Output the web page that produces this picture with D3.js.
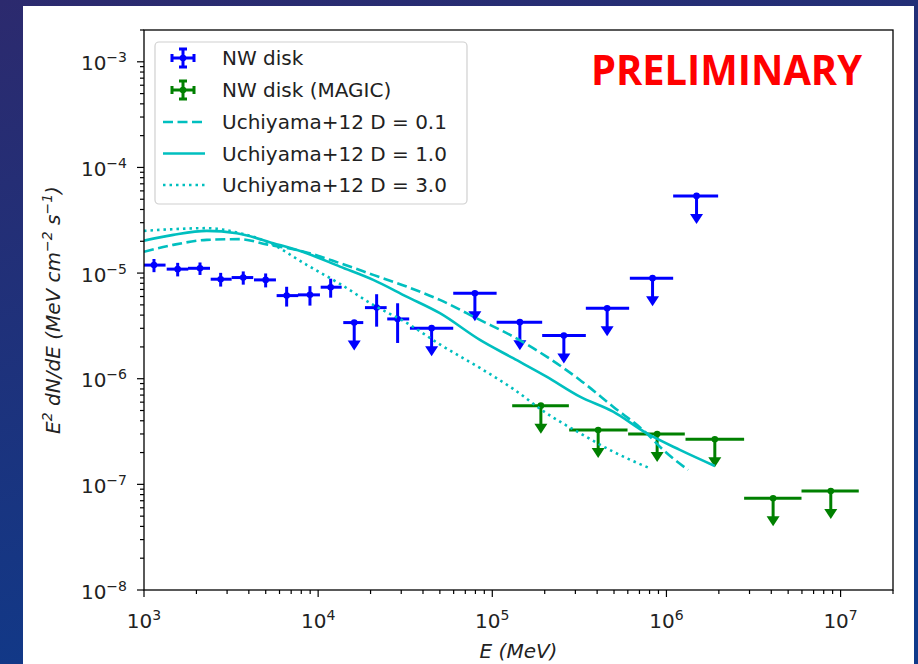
<!DOCTYPE html>
<html>
<head>
<meta charset="utf-8">
<script src="https://cdn.jsdelivr.net/npm/d3@7"></script>
<style>
  body { margin: 0; background: #1b2f78; }
  svg { display: block; }
</style>
</head>
<body>
<script>
// axis ticks
var xTicks = [1e3, 1e4, 1e5, 1e6, 1e7];
var xTickExp = ["3", "4", "5", "6", "7"];
var yTicks = [1e-8, 1e-7, 1e-6, 1e-5, 1e-4, 1e-3];
var yTickExp = ["\u22128", "\u22127", "\u22126", "\u22125", "\u22124", "\u22123"];

// NW disk (Fermi-LAT), energy in MeV, E^2 dN/dE in MeV cm^-2 s^-1
var blueE   = [1141, 1561, 2097, 2756, 3715, 4995, 6594, 8974, 11800, 16110, 21670, 28600, 44830, 79450, 144000, 257600, 456600, 832300, 1489000];
var blueElo = [1000, 1350, 1789, 2415, 3187, 4280, 5776, 7656, 10340, 13940, 18570, 24930, 33650, 59660, 105900, 193400, 344500, 616500, 1093000];
var blueEhi = [1330, 1796, 2393, 3187, 4240, 5724, 7688, 10240, 13650, 18160, 24740, 33340, 59660, 105900, 193400, 344500, 610800, 1093000, 1981000];
var blueF   = [1.19e-5, 1.09e-5, 1.11e-5, 8.75e-6, 9.07e-6, 8.62e-6, 6.12e-6, 6.22e-6, 7.35e-6, 3.40e-6, 4.71e-6, 3.68e-6, 3.01e-6, 6.45e-6, 3.43e-6, 2.56e-6, 4.65e-6, 8.95e-6, 5.38e-5];
var blueErr = [1.7e-6, 1.6e-6, 1.5e-6, 1.3e-6, 1.3e-6, 1.3e-6, 1.3e-6, 1.3e-6, 1.5e-6, 0, 1.6e-6, 1.5e-6, 0, 0, 0, 0, 0, 0, 0];
var blueUL  = [0, 0, 0, 0, 0, 0, 0, 0, 0, 1, 0, 0, 1, 1, 1, 1, 1, 1, 1];

// NW disk (MAGIC), all upper limits
var greenE   = [190100, 405500, 884500, 1896000, 4098000, 8785000];
var greenElo = [130100, 276400, 602700, 1287000, 2793000, 5965000];
var greenEhi = [275300, 597900, 1275000, 2793000, 5965000, 12720000];
var greenF   = [5.56e-7, 3.27e-7, 3.00e-7, 2.67e-7, 7.39e-8, 8.66e-8];

// Uchiyama+12 model curves
var d01E = [1000, 1473, 2291, 3557, 5063, 8590, 13340, 20720, 32210, 50020, 84920, 131800, 204900, 318400, 494300, 768900, 957400, 1332000];
var d01F = [1.588e-5, 1.849e-5, 2.062e-5, 2.094e-5, 1.870e-5, 1.570e-5, 1.241e-5, 9.62e-6, 7.45e-6, 5.57e-6, 3.60e-6, 2.505e-6, 1.619e-6, 9.74e-7, 5.44e-7, 3.05e-7, 2.12e-7, 1.369e-7];
var d10E = [1000, 1473, 2291, 3406, 5524, 8590, 13340, 20720, 32210, 50020, 84920, 131800, 204900, 318400, 494300, 768900, 1194000, 1896000];
var d10F = [2.026e-5, 2.300e-5, 2.510e-5, 2.387e-5, 1.919e-5, 1.543e-5, 1.152e-5, 8.62e-6, 5.99e-6, 4.17e-6, 2.33e-6, 1.563e-6, 1.047e-6, 6.77e-7, 4.88e-7, 3.05e-7, 2.12e-7, 1.494e-7];
var d30E = [1000, 1473, 2291, 3557, 5063, 8590, 13340, 20720, 32210, 50020, 84920, 131800, 204900, 318400, 494300, 803000];
var d30F = [2.510e-5, 2.604e-5, 2.662e-5, 2.387e-5, 1.987e-5, 1.196e-5, 7.90e-6, 5.00e-6, 3.38e-6, 2.113e-6, 1.265e-6, 8.01e-7, 4.71e-7, 3.05e-7, 2.04e-7, 1.42e-7];

var legendLabels = ["NW disk", "NW disk (MAGIC)", "Uchiyama+12 D = 0.1", "Uchiyama+12 D = 1.0", "Uchiyama+12 D = 3.0"];

var w = 918;
var h = 664;
var plotL = 144, plotR = 893, plotT = 30, plotB = 590;
var cyan = "#00bfbf";
var textColor = "#222";
var font = "'DejaVu Sans', sans-serif";

var x = d3.scaleLog().domain([1e3, 2e7]).range([plotL, plotR]);
var y = d3.scaleLog().domain([1e-8, 2e-3]).range([plotB, plotT]);

var svg = d3.select("body").append("svg")
            .attr("width", w)
            .attr("height", h);

// slide background
var defs = svg.append("defs");
var grad = defs.append("linearGradient")
               .attr("id", "bg")
               .attr("x1", 0).attr("y1", 0).attr("x2", 0.35).attr("y2", 1);
grad.append("stop").attr("offset", "0%").attr("stop-color", "#2c2a6e");
grad.append("stop").attr("offset", "100%").attr("stop-color", "#0f3a8a");
svg.append("rect").attr("width", w).attr("height", h).attr("fill", "url(#bg)");
svg.append("rect").attr("x", 23).attr("y", 6).attr("width", 891).attr("height", h).attr("fill", "#fff");

defs.append("clipPath").attr("id", "plot")
    .append("rect").attr("x", plotL).attr("y", plotT)
    .attr("width", plotR - plotL).attr("height", plotB - plotT);

// minor + major ticks
var xMinor = x.ticks().filter(function(v) { return xTicks.indexOf(v) < 0; });
var yMinor = y.ticks().filter(function(v) { return yTicks.indexOf(v) < 0; });

var axes = svg.append("g").attr("stroke", "#000").attr("stroke-width", 1.2);
axes.selectAll(null).data(xMinor).enter().append("line")
    .attr("x1", function(d) { return x(d); }).attr("x2", function(d) { return x(d); })
    .attr("y1", plotB).attr("y2", plotB + 4);
axes.selectAll(null).data(xTicks).enter().append("line")
    .attr("x1", function(d) { return x(d); }).attr("x2", function(d) { return x(d); })
    .attr("y1", plotB).attr("y2", plotB + 7);
axes.selectAll(null).data(yMinor).enter().append("line")
    .attr("y1", function(d) { return y(d); }).attr("y2", function(d) { return y(d); })
    .attr("x1", plotL).attr("x2", plotL - 4);
axes.selectAll(null).data(yTicks).enter().append("line")
    .attr("y1", function(d) { return y(d); }).attr("y2", function(d) { return y(d); })
    .attr("x1", plotL).attr("x2", plotL - 7);

// text with superscripts: parts = [[text, isSup], ...]
function mathText(t, parts, size) {
  var prevSup = false;
  parts.forEach(function(p) {
    var s = t.append("tspan").text(p[0]);
    if (p[1]) s.attr("font-size", size * 0.7);
    if (p[1] && !prevSup) s.attr("dy", -8);
    else if (!p[1] && prevSup) s.attr("dy", 8);
    prevSup = p[1];
  });
}

xTicks.forEach(function(v, i) {
  var t = svg.append("text").attr("x", x(v)).attr("y", 628)
             .attr("text-anchor", "middle").attr("font-family", font)
             .attr("font-size", 20).attr("fill", textColor);
  mathText(t, [["10", false], [xTickExp[i], true]], 20);
});
yTicks.forEach(function(v, i) {
  var t = svg.append("text").attr("x", 127).attr("y", y(v) + 8.5)
             .attr("text-anchor", "end").attr("font-family", font)
             .attr("font-size", 20).attr("fill", textColor);
  mathText(t, [["10", false], [yTickExp[i], true]], 20);
});

// axis labels
var xl = svg.append("text").attr("x", (plotL + plotR) / 2).attr("y", 658)
            .attr("text-anchor", "middle").attr("font-family", font)
            .attr("font-style", "italic").attr("font-size", 20).attr("fill", textColor);
mathText(xl, [["E (MeV)", false]], 20);

var yl = svg.append("text").attr("transform", "translate(60," + (plotT + plotB) / 2 + ") rotate(-90)")
            .attr("text-anchor", "middle").attr("font-family", font)
            .attr("font-style", "italic").attr("font-size", 20).attr("fill", textColor);
mathText(yl, [["E", false], ["2", true], [" dN/dE (MeV cm", false], ["\u22122", true], [" s", false], ["\u22121", true], [")", false]], 20);

// data
var plot = svg.append("g").attr("clip-path", "url(#plot)");

function drawPoints(E, Elo, Ehi, F, Ferr, UL, color) {
  var g = plot.append("g");
  var idx = d3.range(E.length);

  g.selectAll(null).data(idx).enter().append("line")
   .attr("x1", function(i) { return x(Elo[i]); })
   .attr("x2", function(i) { return x(Ehi[i]); })
   .attr("y1", function(i) { return y(F[i]); })
   .attr("y2", function(i) { return y(F[i]); })
   .attr("stroke", color).attr("stroke-width", 3);

  // measured points: vertical error bars
  var meas = idx.filter(function(i) { return !UL[i]; });
  g.selectAll(null).data(meas).enter().append("line")
   .attr("x1", function(i) { return x(E[i]); })
   .attr("x2", function(i) { return x(E[i]); })
   .attr("y1", function(i) { return y(F[i] + Ferr[i]); })
   .attr("y2", function(i) { return y(F[i] - Ferr[i]); })
   .attr("stroke", color).attr("stroke-width", 3);

  // upper limits: arrow pointing down
  var lims = idx.filter(function(i) { return UL[i]; });
  g.selectAll(null).data(lims).enter().append("line")
   .attr("x1", function(i) { return x(E[i]); })
   .attr("x2", function(i) { return x(E[i]); })
   .attr("y1", function(i) { return y(F[i]); })
   .attr("y2", function(i) { return y(F[i]) + 20; })
   .attr("stroke", color).attr("stroke-width", 3);
  g.selectAll(null).data(lims).enter().append("path")
   .attr("d", function(i) {
     var cx = x(E[i]), cy = y(F[i]);
     return "M" + (cx - 6.5) + "," + (cy + 18) + "L" + (cx + 6.5) + "," + (cy + 18) + "L" + cx + "," + (cy + 28) + "Z";
   })
   .attr("fill", color);

  g.selectAll(null).data(idx).enter().append("circle")
   .attr("cx", function(i) { return x(E[i]); })
   .attr("cy", function(i) { return y(F[i]); })
   .attr("r", 3.3)
   .attr("fill", color);
}

drawPoints(blueE, blueElo, blueEhi, blueF, blueErr, blueUL, "#0000ff");
drawPoints(greenE, greenElo, greenEhi, greenF, greenF.map(function() { return 0; }), greenF.map(function() { return 1; }), "#008000");

var line = d3.line()
             .curve(d3.curveMonotoneX)
             .x(function(d) { return x(d[0]); })
             .y(function(d) { return y(d[1]); });

function drawCurve(E, F, dash) {
  plot.append("path")
      .datum(d3.zip(E, F))
      .attr("d", line)
      .attr("fill", "none")
      .attr("stroke", cyan)
      .attr("stroke-width", 2.6)
      .attr("stroke-linejoin", "round")
      .attr("stroke-dasharray", dash);
}
drawCurve(d01E, d01F, "10,4.5");
drawCurve(d10E, d10F, null);
drawCurve(d30E, d30F, "2.5,4");

// frame
svg.append("rect").attr("x", plotL).attr("y", plotT)
   .attr("width", plotR - plotL).attr("height", plotB - plotT)
   .attr("fill", "none").attr("stroke", "#000").attr("stroke-width", 1.3);

// legend
var lg = svg.append("g");
lg.append("rect").attr("x", 155).attr("y", 42).attr("width", 312).attr("height", 162).attr("rx", 4)
  .attr("fill", "#fff").attr("stroke", "#d0d0d0").attr("stroke-width", 1.2);
var rows = [58, 90, 122, 153.5, 185];

function legendErr(cy, color) {
  var cx = 183, hx = 11, hy = 9, c = 4;
  var d = "M" + (cx - hx) + "," + cy + "H" + (cx + hx) +
          "M" + cx + "," + (cy - hy) + "V" + (cy + hy) +
          "M" + (cx - hx) + "," + (cy - c) + "V" + (cy + c) +
          "M" + (cx + hx) + "," + (cy - c) + "V" + (cy + c) +
          "M" + (cx - c) + "," + (cy - hy) + "H" + (cx + c) +
          "M" + (cx - c) + "," + (cy + hy) + "H" + (cx + c);
  lg.append("path").attr("d", d).attr("stroke", color).attr("stroke-width", 3).attr("fill", "none");
  lg.append("circle").attr("cx", cx).attr("cy", cy).attr("r", 3.3).attr("fill", color);
}
legendErr(rows[0], "#0000ff");
legendErr(rows[1], "#008000");
[["10,4.5", rows[2]], [null, rows[3]], ["2.5,4", rows[4]]].forEach(function(r) {
  lg.append("line").attr("x1", 163).attr("x2", 205).attr("y1", r[1]).attr("y2", r[1])
    .attr("stroke", cyan).attr("stroke-width", 2.6).attr("stroke-dasharray", r[0]);
});
legendLabels.forEach(function(s, i) {
  lg.append("text").attr("x", 222).attr("y", rows[i] + 7)
    .attr("font-family", font).attr("font-size", 20).attr("fill", textColor).text(s);
});

// watermark
svg.append("text").attr("x", 591).attr("y", 85)
   .attr("font-family", "'Open Sans', 'Liberation Sans', sans-serif").attr("font-weight", "bold")
   .attr("font-size", 42).attr("fill", "#ff0000")
   .attr("textLength", 271).attr("lengthAdjust", "spacingAndGlyphs")
   .text("PRELIMINARY");
</script>
</body>
</html>
